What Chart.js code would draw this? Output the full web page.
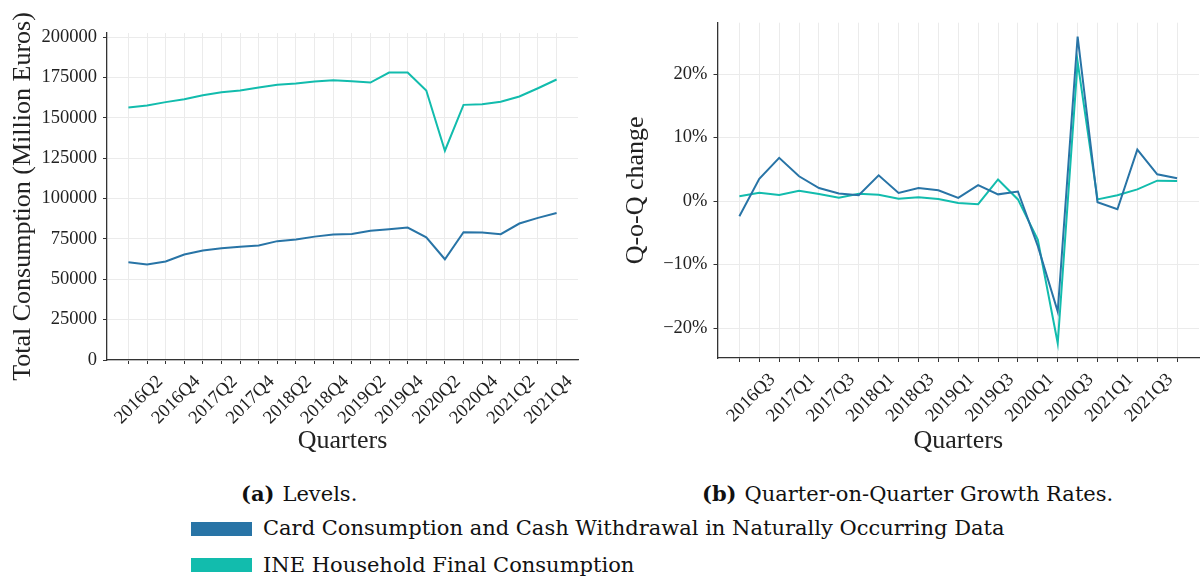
<!DOCTYPE html>
<html>
<head>
<meta charset="utf-8">
<script src="https://cdn.jsdelivr.net/npm/chart.js@4.4.1/dist/chart.umd.min.js"></script>
<style>
  body { margin: 0; background: #fff; }
  #wrap { position: relative; width: 1200px; height: 579px; overflow: hidden; }
  .cap, .leg { position: absolute; font-family: "DejaVu Serif", serif; font-size: 21px; line-height: 21px; color: #111; white-space: nowrap; }
  .cap b { margin-right: 8px; }
  .sw { position: absolute; width: 61px; height: 14px; }
</style>
</head>
<body>
<div id="wrap">
  <canvas id="levels" width="600" height="460" style="position:absolute;left:0;top:0"></canvas>
  <canvas id="growth" width="600" height="460" style="position:absolute;left:600px;top:0"></canvas>
  <div class="cap" style="left:241px;top:483px"><b>(a)</b>Levels.</div>
  <div class="cap" style="left:702px;top:483px"><b>(b)</b>Quarter-on-Quarter Growth Rates.</div>
  <div id="legend"></div>
</div>
<script>
const quartersLevels = ['2016Q1','2016Q2','2016Q3','2016Q4','2017Q1','2017Q2','2017Q3','2017Q4',
  '2018Q1','2018Q2','2018Q3','2018Q4','2019Q1','2019Q2','2019Q3','2019Q4',
  '2020Q1','2020Q2','2020Q3','2020Q4','2021Q1','2021Q2','2021Q3','2021Q4'];
const quartersGrowth = quartersLevels.slice(1);

const seriesNames = ['Card Consumption and Cash Withdrawal in Naturally Occurring Data', 'INE Household Final Consumption'];
const seriesColors = ['#2874a6', '#12bcad'];

// million euros
const cardLevels = [60600, 59200, 61000, 65300, 67800, 69200, 70100, 70900, 73600, 74600, 76400, 77700,
  78100, 80100, 81000, 82000, 76000, 62400, 79100, 78900, 77900, 84500, 88000, 91000];
const ineLevels = [156400, 157600, 159700, 161500, 164000, 165800, 166900, 168700, 170400, 171200, 172400, 173300,
  172600, 171800, 178000, 178000, 166900, 129600, 158000, 158400, 159900, 163200, 168300, 173700];

// percent change q-o-q
const cardGrowth = [-2.4, 3.5, 6.8, 3.9, 2.05, 1.2, 0.9, 4.05, 1.26, 2.05, 1.7, 0.5,
  2.5, 1.05, 1.5, -7.1, -17.4, 25.9, -0.2, -1.3, 8.1, 4.2, 3.6];
const ineGrowth = [0.74, 1.3, 0.95, 1.6, 1.1, 0.5, 1.16, 1.0, 0.37, 0.58, 0.3, -0.3,
  -0.5, 3.4, 0.25, -6.1, -22.4, 21.9, 0.26, 0.9, 1.84, 3.2, 3.15];

const levelTicks = [0, 25000, 50000, 75000, 100000, 125000, 150000, 175000, 200000];
const growthTicks = [-20, -10, 0, 10, 20];

const serif = 'Liberation Serif';
const ink = '#222';
const gridColor = '#ebebeb';
const spine = '#333';

function toPoints(vals) {
  return vals.map((v, i) => ({ x: i, y: v }));
}

function makeChart(id, labels, series, yTicks, yFmt, box) {
  const n = labels.length - 1;
  const pad = n * 0.05;
  return new Chart(document.getElementById(id), {
    type: 'line',
    data: {
      datasets: series.map((vals, k) => ({
        label: seriesNames[k],
        data: toPoints(vals),
        borderColor: seriesColors[k],
        backgroundColor: seriesColors[k],
        borderWidth: 2,
        pointRadius: 0,
        tension: 0
      }))
    },
    options: {
      responsive: false,
      animation: false,
      layout: { padding: { top: box.top, right: box.right, left: 0, bottom: 0 } },
      plugins: { legend: { display: false }, tooltip: { enabled: false } },
      scales: {
        x: {
          type: 'linear',
          min: -pad,
          max: n + pad,
          afterBuildTicks: (axis) => { axis.ticks = labels.map((_, i) => ({ value: i })); },
          afterFit: (scale) => { scale.height = box.xh; },
          ticks: {
            autoSkip: false,
            maxRotation: 45,
            minRotation: 45,
            labelOffset: 13,
            padding: 7,
            color: ink,
            font: { family: serif, size: 18.5 },
            callback: (v) => (v % 2 === 1 ? labels[v] : '')
          },
          grid: { color: gridColor, lineWidth: 1, tickColor: spine, tickLength: 4 },
          border: { color: spine, width: 1.3 },
          title: { display: true, text: 'Quarters', color: ink, font: { family: serif, size: 26 }, padding: { top: 0, bottom: 3 } }
        },
        y: {
          min: box.ymin,
          max: box.ymax,
          afterBuildTicks: (axis) => { axis.ticks = yTicks.map(v => ({ value: v })); },
          afterFit: (scale) => { scale.width = box.yw; },
          ticks: { padding: 6, color: ink, font: { family: serif, size: 18.5 }, callback: yFmt },
          grid: { color: gridColor, lineWidth: 1, tickColor: spine, tickLength: 4 },
          border: { color: spine, width: 1.3 },
          title: { display: true, text: box.ytitle, color: ink, font: { family: serif, size: 26 }, padding: { top: box.ytp, bottom: 0 } }
        }
      }
    }
  });
}

const levelsChart = makeChart('levels', quartersLevels, [cardLevels, ineLevels], levelTicks,
  (v) => String(v),
  { top: 33, right: 22, xh: 100, yw: 107, ymin: 0, ymax: 202500, ytitle: 'Total Consumption (Million Euros)', ytp: 8 });

makeChart('growth', quartersGrowth, [cardGrowth, ineGrowth], growthTicks,
  (v) => (v < 0 ? '\u2212' : '') + Math.abs(v) + '%',
  { top: 22.7, right: 1, xh: 102, yw: 117.5, ymin: -24.72, ymax: 28.08, ytitle: 'Q-o-Q change', ytp: 21 });

// shared legend below both panels
const legend = document.getElementById('legend');
levelsChart.data.datasets.forEach((ds, k) => {
  const top = 518 + k * 36.5;
  const sw = document.createElement('div');
  sw.className = 'sw';
  sw.style.left = '191px';
  sw.style.top = (top + 3.7) + 'px';
  sw.style.background = ds.borderColor;
  legend.appendChild(sw);
  const txt = document.createElement('div');
  txt.className = 'leg';
  txt.style.left = '263px';
  txt.style.top = top + 'px';
  txt.textContent = ds.label;
  legend.appendChild(txt);
});
</script>
</body>
</html>
